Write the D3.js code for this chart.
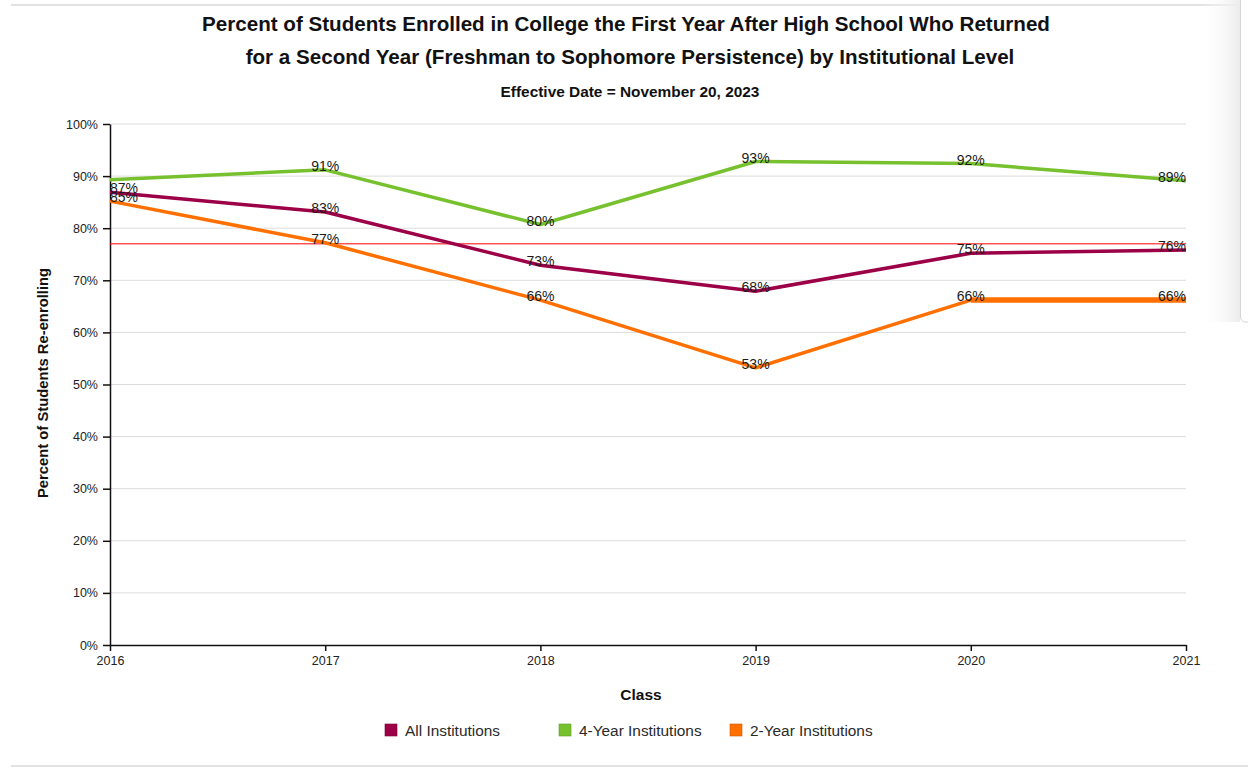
<!DOCTYPE html>
<html>
<head>
<meta charset="utf-8">
<script src="https://cdn.jsdelivr.net/npm/d3@7"></script>
<style>
  html, body { margin: 0; padding: 0; background: #fff; }
  svg { display: block; font-family: "Liberation Sans", Arial, Helvetica, sans-serif; }
</style>
</head>
<body>
<svg id="chart" width="1248" height="771"></svg>
<script>
// Persistence rates by graduating class
const years = [2016, 2017, 2018, 2019, 2020, 2021];
const allInstitutions = [86.9, 83.1, 72.9, 67.9, 75.2, 75.8];
const fourYear = [89.3, 91.2, 80.7, 92.8, 92.4, 89.1];
const twoYear = [85.2, 77.2, 66.2, 53.2, 66.2, 66.2];
const allLabels = ["87%", "83%", "73%", "68%", "75%", "76%"];
const fourLabels = [null, "91%", "80%", "93%", "92%", "89%"];
const twoLabels = ["85%", "77%", "66%", "53%", "66%", "66%"];
const referenceLine = 77;
const yTicks = [0, 10, 20, 30, 40, 50, 60, 70, 80, 90, 100];
const seriesNames = ["All Institutions", "4-Year Institutions", "2-Year Institutions"];
const seriesColors = ["#9c0047", "#77c12f", "#ff7000"];

const svg = d3.select("#chart");
const margin = { left: 110, right: 1186, top: 124, bottom: 645 };

const x = d3.scaleLinear().domain([2016, 2021]).range([margin.left, margin.right]);
const y = d3.scaleLinear().domain([0, 100]).range([margin.bottom, margin.top]);

// frame lines of the page container
svg.append("line").attr("x1", 11).attr("x2", 1248).attr("y1", 5).attr("y2", 5)
  .attr("stroke", "#e2e2e2").attr("stroke-width", 2);
svg.append("line").attr("x1", 11).attr("x2", 1248).attr("y1", 766).attr("y2", 766)
  .attr("stroke", "#e2e2e2").attr("stroke-width", 2);

// titles
const title = svg.append("text").attr("text-anchor", "middle").attr("font-weight", "bold")
  .attr("font-size", 20.6).attr("fill", "#111");
title.append("tspan").attr("x", 626).attr("y", 31)
  .text("Percent of Students Enrolled in College the First Year After High School Who Returned");
title.append("tspan").attr("x", 630).attr("y", 64)
  .text("for a Second Year (Freshman to Sophomore Persistence) by Institutional Level");
svg.append("text").attr("x", 630).attr("y", 97).attr("text-anchor", "middle")
  .attr("font-weight", "bold").attr("font-size", 15.4).attr("fill", "#111")
  .text("Effective Date = November 20, 2023");

// gridlines
svg.append("g").selectAll("line").data(yTicks.filter(d => d > 0)).join("line")
  .attr("x1", margin.left).attr("x2", margin.right)
  .attr("y1", d => y(d)).attr("y2", d => y(d))
  .attr("stroke", "#dcdcdc").attr("stroke-width", 1);

// axes
const yAxis = svg.append("g").attr("transform", `translate(${margin.left},0)`)
  .call(d3.axisLeft(y).tickValues(yTicks).tickFormat(d => d + "%").tickSize(7).tickSizeOuter(0));
const xAxis = svg.append("g").attr("transform", `translate(0,${margin.bottom})`)
  .call(d3.axisBottom(x).tickValues(years).tickFormat(d3.format("d")).tickSize(6).tickSizeOuter(0));
[yAxis, xAxis].forEach(a => {
  a.select(".domain").attr("stroke", "#111").attr("stroke-width", 1.5);
  a.selectAll(".tick line").attr("stroke", "#111").attr("stroke-width", 1.5);
  a.selectAll(".tick text").attr("font-size", 12.5).attr("fill", "#222")
    .attr("font-family", "Liberation Sans, Arial, sans-serif");
});
yAxis.selectAll(".tick text").attr("x", -12);
xAxis.selectAll(".tick text").attr("y", 11);

// axis titles
svg.append("text").attr("transform", "translate(48,383) rotate(-90)")
  .attr("text-anchor", "middle").attr("font-weight", "bold").attr("font-size", 14.8)
  .attr("fill", "#111").text("Percent of Students Re-enrolling");
svg.append("text").attr("x", 641).attr("y", 700).attr("text-anchor", "middle")
  .attr("font-weight", "bold").attr("font-size", 15.5).attr("fill", "#111").text("Class");

// series lines
const seriesValues = [allInstitutions, fourYear, twoYear];
const seriesLabels = [allLabels, fourLabels, twoLabels];
const line = d3.line().x((d, i) => x(years[i])).y(d => y(d));

// reference line
svg.append("line").attr("x1", margin.left).attr("x2", margin.right)
  .attr("y1", y(referenceLine)).attr("y2", y(referenceLine))
  .attr("stroke", "#ff0000").attr("stroke-width", 1);

[1, 0, 2].forEach(s => {
  svg.append("path").datum(seriesValues[s]).attr("d", line)
    .attr("fill", "none").attr("stroke", seriesColors[s]).attr("stroke-width", 3.5)
    .attr("stroke-linejoin", "round");
});
// the flat 2-year segment renders heavier where two strokes coincide
svg.append("path").datum(twoYear.slice(4))
  .attr("d", d3.line().x((d, i) => x(years[i + 4])).y(d => y(d)))
  .attr("fill", "none").attr("stroke", seriesColors[2]).attr("stroke-width", 5.5);

// data labels
const labelGroup = svg.append("g").attr("font-size", 14).attr("fill", "#1a1a1a");
seriesValues.forEach((vals, s) => {
  vals.forEach((v, i) => {
    const txt = seriesLabels[s][i];
    if (!txt) return;
    const anchor = i === 0 ? "start" : (i === years.length - 1 ? "end" : "middle");
    labelGroup.append("text").attr("x", x(years[i])).attr("y", y(v) + 1)
      .attr("text-anchor", anchor).text(txt);
  });
});

// legend
const legendX = [385, 559, 730];
const legend = svg.append("g");
seriesNames.forEach((name, i) => {
  legend.append("rect").attr("x", legendX[i]).attr("y", 724).attr("width", 12).attr("height", 12)
    .attr("fill", seriesColors[i]).attr("stroke", d3.color(seriesColors[i]).darker(0.6)).attr("stroke-width", 0.6);
  legend.append("text").attr("x", legendX[i] + 20).attr("y", 736).attr("font-size", 15.4)
    .attr("fill", "#2a2a2a").text(name);
});

// side panel at right edge
const defs = svg.append("defs");
const grad = defs.append("linearGradient").attr("id", "panelShade").attr("x1", 0).attr("x2", 1);
grad.append("stop").attr("offset", 0).attr("stop-color", "#ffffff").attr("stop-opacity", 0);
grad.append("stop").attr("offset", 1).attr("stop-color", "#ececec").attr("stop-opacity", 1);
svg.append("rect").attr("x", 1200).attr("y", 0).attr("width", 40).attr("height", 322)
  .attr("fill", "url(#panelShade)");
svg.append("rect").attr("x", 1240.5).attr("y", -6).attr("width", 20).attr("height", 328).attr("rx", 5)
  .attr("fill", "#fff").attr("stroke", "#d6d6d6").attr("stroke-width", 1);
</script>
</body>
</html>
